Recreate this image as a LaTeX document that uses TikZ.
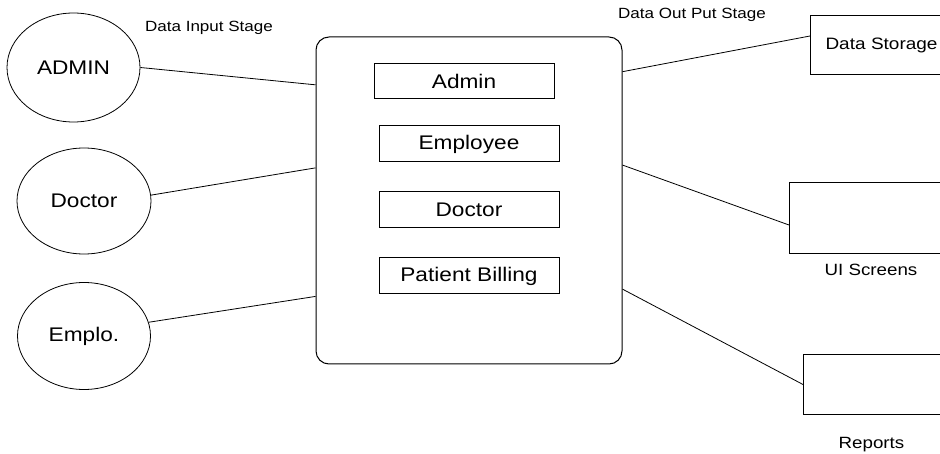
\documentclass[tikz,border=0pt]{standalone}
\usepackage{fontspec}
\setmainfont{Liberation Sans}[FakeStretch=1.15]
\usepackage{tikz}
\usetikzlibrary{positioning, shapes.geometric}
\tikzset{
    actornode/.style={
        ellipse,
        draw=black, % 椭圆边框
        line width=0.8pt,
        inner sep=0,
        font=\fontsize{19.7}{22}\selectfont
    },
    modulenode/.style={
        rectangle,
        draw=black,
        line width=1pt, % 边框加粗
        minimum width=180pt,
        minimum height=36pt,
        inner sep=0,
        font=\fontsize{19.7}{22}\selectfont
    },
    sinknode/.style={
        rectangle,
        draw=black,
        line width=1pt,
        anchor=west,
        minimum width=200pt,
        inner sep=0,
        font=\fontsize{16.5}{19}\selectfont
    },
    labelnode/.style={
        inner sep=0,
        font=\fontsize{16.3}{19}\selectfont
    },
    stagenode/.style={
        inner sep=0,
        font=\fontsize{14.8}{17}\selectfont
    },
    link/.style={
        draw=black,
        line width=0.8pt
    }
}
\begin{document}
\begin{tikzpicture}[x=1pt, y=-1pt]
    \clip (0,0) rectangle (940,454);
    % 输入端
    \node[actornode, minimum width=133pt, minimum height=109pt] (admin) at (73.5,67.5) {ADMIN};
    \node[actornode, minimum width=134pt, minimum height=106pt] (doctor) at (84,201) {Doctor};
    \node[actornode, minimum width=133pt, minimum height=107pt] (emplo) at (84,336) {Emplo.};
    % 系统
    \node[draw, line width=1pt, rounded corners=13pt,
          minimum width=306pt, minimum height=327pt] (sys) at (469,200.5) {};
    \node[modulenode, minimum height=35pt] (madmin) at (464,81.5) {Admin};
    \node[modulenode] (memployee) at (469,144) {Employee};
    \node[modulenode] (mdoctor) at (469,210) {Doctor};
    \node[modulenode] (mbilling) at (469,276) {Patient Billing};
    % 输出端 (右边被裁掉)
    \node[sinknode, minimum height=59pt, text width=170pt, inner xsep=13pt, align=left] (store) at (810,45.5) {Data Storage};
    \node[sinknode, minimum height=71pt] (ui) at (789,218.5) {};
    \node[sinknode, minimum height=59pt] (reports) at (803,384.5) {};
    % 文字
    \node[stagenode] (instage) at (209,28) {Data Input Stage};
    \node[stagenode, anchor=west] (outstage) at (618,15) {Data Out Put Stage};
    \node[labelnode] (uilabel) at (871,270) {UI Screens};
    \node[labelnode] (replabel) at (871.5,445) {Reports};
    % 连线
    \draw[link] (admin.east) -- (sys.143.7);
    \draw[link] (doctor.5) -- (sys.168.7);
    \draw[link] (emplo.12) -- (sys.212.2);
    \draw[link] (sys.40.2) -- ([yshift=9.5pt]store.west);
    \draw[link] (sys.13.4) -- ([yshift=-6.5pt]ui.west);
    \draw[link] (sys.330.8) -- (reports.west);
\end{tikzpicture}
\end{document}
